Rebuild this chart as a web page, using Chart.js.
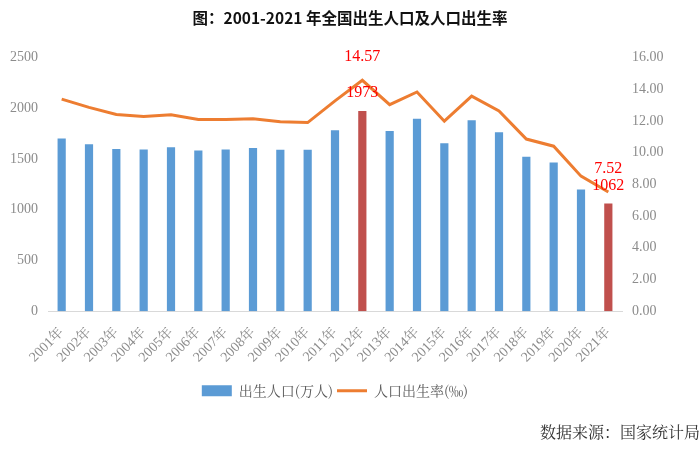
<!DOCTYPE html>
<html>
<head>
<meta charset="utf-8">
<script src="https://cdn.jsdelivr.net/npm/chart.js@4/dist/chart.umd.min.js"></script>
<style>
  html, body { margin: 0; padding: 0; background: #fff; }
  #wrap { width: 700px; height: 454px; position: relative; }
</style>
</head>
<body>
<div id="wrap"><canvas id="myChart"></canvas></div>
<script>
// data
var years = ['2001年', '2002年', '2003年', '2004年', '2005年', '2006年', '2007年', '2008年', '2009年', '2010年',
             '2011年', '2012年', '2013年', '2014年', '2015年', '2016年', '2017年', '2018年', '2019年', '2020年', '2021年'];
var births = [1702, 1647, 1599, 1593, 1617, 1584, 1594, 1608, 1591, 1592,
              1785, 1973, 1776, 1897, 1655, 1883, 1765, 1523, 1465, 1200, 1062];
var birthRate = [13.38, 12.86, 12.41, 12.29, 12.40, 12.09, 12.10, 12.14, 11.95, 11.90,
                 13.27, 14.57, 13.03, 13.83, 11.99, 13.57, 12.64, 10.86, 10.41, 8.52, 7.52];
var highlightYears = ['2012年', '2021年'];
var leftTicks = [0, 500, 1000, 1500, 2000, 2500];
var rightTicks = [0, 2, 4, 6, 8, 10, 12, 14, 16];

var blue = '#5B9BD5';
var red = '#C0504D';
var orange = '#ED7D31';
var serif = '"Liberation Serif", "Noto Serif CJK SC", "Noto Sans CJK SC", serif';
var cjk = '"Noto Serif CJK SC", "Noto Sans CJK SC", serif';

var barColors = years.map(function (y) {
    return highlightYears.indexOf(y) >= 0 ? red : blue;
});

// red value labels on the highlighted years
var valueLabels = {
    id: 'valueLabels',
    afterDatasetsDraw: function (chart) {
        var ctx = chart.ctx;
        var barMeta = chart.getDatasetMeta(0);
        var lineMeta = chart.getDatasetMeta(1);
        ctx.save();
        ctx.fillStyle = '#FF0000';
        ctx.font = '16px ' + serif;
        ctx.textAlign = 'center';
        ctx.textBaseline = 'middle';
        highlightYears.forEach(function (y) {
            var i = years.indexOf(y);
            var bar = barMeta.data[i];
            var pt = lineMeta.data[i];
            ctx.fillText(String(births[i]), bar.x, bar.y - 18);
            ctx.fillText(birthRate[i].toFixed(2), pt.x, pt.y - 23);
        });
        ctx.restore();
    }
};

var ctx = document.getElementById('myChart').getContext('2d');
var myChart = new Chart(ctx, {
    data: {
        labels: years,
        datasets: [
            {
                type: 'bar',
                label: '出生人口(万人)',
                data: births,
                backgroundColor: barColors,
                borderWidth: 0,
                barPercentage: 0.3,
                categoryPercentage: 1,
                yAxisID: 'y',
                order: 1
            },
            {
                type: 'line',
                label: '人口出生率(‰)',
                data: birthRate,
                borderColor: orange,
                backgroundColor: orange,
                borderWidth: 3,
                pointRadius: 0,
                tension: 0,
                yAxisID: 'y1',
                order: 0
            }
        ]
    },
    options: {
        responsive: true,
        maintainAspectRatio: false,
        animation: false,
        layout: { padding: { left: 0, right: 0, top: 0, bottom: 8 } },
        scales: {
            x: {
                grid: { display: false },
                border: { display: true, color: '#D9D9D9', width: 1 },
                afterFit: function (s) { s.height = s.height + 9; },
                ticks: {
                    color: '#8C8C8C',
                    font: { size: 14, family: serif },
                    minRotation: 45,
                    maxRotation: 45,
                    autoSkip: false,
                    padding: 5
                }
            },
            y: {
                position: 'left',
                min: 0,
                max: 2500,
                grid: { display: false, drawTicks: false },
                border: { display: false },
                afterBuildTicks: function (s) { s.ticks = leftTicks.map(function (v) { return { value: v }; }); },
                afterFit: function (s) { s.width = 48; },
                ticks: {
                    color: '#8C8C8C',
                    font: { size: 14, family: serif },
                    padding: 10,
                    callback: function (v) { return String(v); }
                }
            },
            y1: {
                position: 'right',
                min: 0,
                max: 16,
                grid: { display: false, drawTicks: false },
                border: { display: false },
                afterBuildTicks: function (s) { s.ticks = rightTicks.map(function (v) { return { value: v }; }); },
                afterFit: function (s) { s.width = 78; },
                ticks: {
                    color: '#8C8C8C',
                    font: { size: 14, family: serif },
                    padding: 10,
                    callback: function (v) { return Number(v).toFixed(2); }
                }
            }
        },
        plugins: {
            title: {
                display: true,
                text: '图：2001-2021 年全国出生人口及人口出生率',
                color: '#111',
                font: { size: 15.5, weight: 'bold', family: '"Noto Sans CJK SC", sans-serif' },
                padding: { top: 9, bottom: 30 }
            },
            subtitle: {
                display: true,
                position: 'bottom',
                align: 'end',
                text: '数据来源：国家统计局',
                color: '#333',
                font: { size: 16, family: cjk },
                padding: { top: 15, bottom: 4 }
            },
            legend: {
                position: 'bottom',
                fullSize: false,
                labels: {
                    usePointStyle: true,
                    pointStyleWidth: 30,
                    boxHeight: 11,
                    padding: 4,
                    color: '#595959',
                    font: { size: 14, family: cjk },
                    sort: function (a, b) { return a.datasetIndex - b.datasetIndex; },
                    generateLabels: function (chart) {
                        var items = Chart.defaults.plugins.legend.labels.generateLabels(chart);
                        items.forEach(function (it) {
                            it.pointStyle = chart.data.datasets[it.datasetIndex].type === 'line' ? 'line' : 'rect';
                        });
                        return items;
                    }
                }
            },
            tooltip: { enabled: false }
        }
    },
    plugins: [valueLabels]
});
</script>
</body>
</html>
